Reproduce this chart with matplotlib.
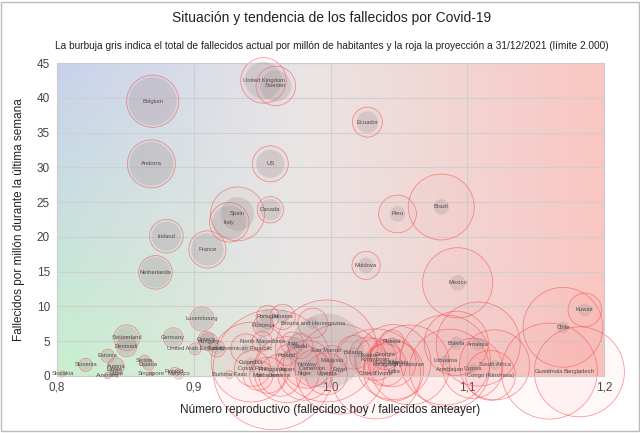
import matplotlib
matplotlib.use('Agg')
import matplotlib.pyplot as plt
import numpy as np

plt.rcParams['font.family'] = ['Liberation Sans', 'DejaVu Sans']

# datos
paises = ['United Kingdom', 'Sweden', 'Belgium', 'Andorra', 'US', 'Ecuador', 'Canada',
          'Spain', 'Italy', 'France', 'Ireland', 'Netherlands', 'Brazil', 'Peru',
          'Moldova', 'Mexico', 'Kuwait', 'Chile', 'Luxembourg', 'Switzerland',
          'Denmark', 'Germany', 'Estonia', 'Slovenia', 'Austria', 'Serbia', 'Croatia',
          'Slovakia', 'Australia', 'Cuba', 'Latvia', 'Singapore', 'Finland', 'Morocco',
          'Hungary', 'Greece', 'United Arab Emirates', 'Turkey', 'Burkina Faso',
          'Portugal', 'Panama', 'Romania', 'Bosnia and Herzegovina', 'North Macedonia',
          'Dominican Republic', 'World', 'Iran', 'Poland', 'Colombia', 'Costa Rica',
          'Philippines', 'Japan', 'Mali', 'Lebanon', 'Jamaica', 'Norway', 'Cameroon',
          'Niger', 'San Marino', 'Malaysia', 'Uganda', 'Egypt', 'Russia', 'Belarus',
          'Ukraine', 'Kyrgyzstan', 'Georgia', 'Paraguay', 'Saudi Arabia', 'Iraq',
          "Cote d'Ivoire", 'India', 'Afghanistan', 'Lithuania', 'Azerbaijan', 'Bolivia',
          'Armenia', 'Cyprus', 'South Africa', 'Congo (Kinshasa)', 'Guatemala',
          'Bangladesh']

# numero reproductivo (fallecidos hoy / fallecidos anteayer)
reproductivo = [0.951, 0.960, 0.870, 0.869, 0.956, 1.027, 0.956,
                0.932, 0.926, 0.910, 0.880, 0.872, 1.081, 1.049,
                1.026, 1.093, 1.186, 1.170, 0.906, 0.851,
                0.851, 0.885, 0.837, 0.821, 0.843, 0.864, 0.867,
                0.804, 0.837, 0.844, 0.842, 0.869, 0.886, 0.889,
                0.911, 0.909, 0.901, 0.917, 0.926,
                0.954, 0.965, 0.951, 0.987, 0.950,
                0.938, 0.978, 0.972, 0.968, 0.942, 0.943,
                0.958, 0.968, 0.947, 0.954, 0.963, 0.983, 0.987,
                0.981, 0.997, 1.001, 0.997, 1.007, 1.045, 1.017,
                1.027, 1.033, 1.040, 1.040, 1.045, 1.046,
                1.033, 1.046, 1.058, 1.084, 1.087, 1.092,
                1.108, 1.104, 1.120, 1.117, 1.160,
                1.182]

# fallecidos por millon durante la ultima semana
semana = [42.5, 41.7, 39.5, 30.5, 30.5, 36.5, 23.9,
          23.3, 22.1, 18.2, 20.1, 14.9, 24.3, 23.3,
          15.9, 13.4, 9.5, 7.0, 8.2, 5.5,
          4.2, 5.5, 2.9, 1.6, 1.4, 2.2, 1.6,
          0.3, 0.05, 0.4, 1.0, 0.3, 0.6, 0.3,
          4.9, 5.3, 3.9, 3.9, 0.2,
          8.5, 8.5, 7.2, 7.6, 5.0,
          3.9, 4.3, 4.7, 3.0, 2.0, 1.1,
          0.9, 0.9, 0.1, 0.1, 0.1, 1.7, 1.1,
          0.4, 3.6, 2.2, 0.3, 1.0, 4.9, 3.4,
          3.0, 2.4, 3.1, 1.6, 1.9, 2.0,
          0.3, 0.7, 1.6, 2.3, 1.0, 4.7,
          4.6, 1.1, 1.6, 0.1, 0.7,
          0.6]

# fallecidos totales por millon (burbuja gris)
total = [620, 520, 800, 730, 470, 360, 360,
         560, 560, 540, 490, 510, 260, 260,
         260, 260, 220, 200, 360, 380,
         300, 290, 190, 190, 260, 160, 150,
         90, 90, 90, 80, 60, 80, 120,
         260, 230, 160, 200, 60,
         260, 240, 280, 200, 180,
         150, 150, 200, 160, 160, 120,
         120, 90, 60, 70, 60, 140, 100,
         60, 1250, 100, 70, 110, 160, 180,
         130, 110, 100, 110, 110, 130,
         80, 90, 80, 160, 100, 220,
         220, 160, 170, 60, 100,
         70]

# proyeccion a 31/12/2021 por millon (burbuja roja, limite 2.000)
proyeccion = [760, 660, 870, 800, 600, 500, 440,
              900, 660, 620, 560, 560, 1100, 630,
              470, 1170, 560, 1330, 400, 430,
              330, 330, 220, 220, 280, 180, 180,
              100, 110, 130, 110, 70, 150, 170,
              300, 260, 200, 270, 130,
              380, 420, 340, 500, 330,
              500, 420, 380, 340, 1330, 600,
              2000, 1100, 500, 600, 700, 800, 600,
              900, 1700, 500, 700, 1500, 400, 560,
              600, 700, 500, 700, 800, 1250,
              1500, 1000, 1330, 1500, 1330, 1070,
              1400, 1000, 1170, 830, 1600,
              1500]

RADIO_MAX = 60.0   # radio en pixeles para 2.000 fallecidos/millon
LIMITE = 2000.0


def area(valores):
    r = RADIO_MAX * np.minimum(np.asarray(valores, float), LIMITE) / LIMITE
    return (2 * r * 72.0 / 100) ** 2


fig = plt.figure(figsize=(6.4, 4.33), dpi=100)
fig.patch.set_facecolor('white')

ax = fig.add_axes([57 / 640, (433 - 376) / 433, (604 - 57) / 640, (376 - 63) / 433])
ax.set_xlim(0.8, 1.2)
ax.set_ylim(0, 45)

# fondo en degradado: azul arriba izq, verde abajo izq, rojo a la derecha
ny, nx = 100, 200
ty = np.linspace(0, 1, ny)[:, None, None]
tx = np.linspace(0, 1, nx)[None, :, None]
azul = np.array([200, 210, 236]) / 255
verde = np.array([200, 240, 206]) / 255
izq = azul * (1 - ty) + verde * ty
centro = np.array([234, 229, 229]) / 255
rojo = np.array([250, 198, 193]) / 255
t1 = np.clip(tx / 0.45, 0, 1)
t2 = np.clip((tx - 0.45) / 0.55, 0, 1)
fondo = np.where(tx < 0.45, izq * (1 - t1) + centro * t1, centro * (1 - t2) + rojo * t2)
ax.imshow(fondo, extent=[0.8, 1.2, 0, 45], aspect='auto', zorder=0, origin='upper')

ax.set_xticks([0.8, 0.9, 1.0, 1.1, 1.2])
ax.set_xticklabels(['0,8', '0,9', '1,0', '1,1', '1,2'])
ax.set_yticks(range(0, 46, 5))
ax.tick_params(length=0, labelsize=8.5, colors='#444444')
ax.tick_params(axis='x', pad=4)
ax.tick_params(axis='y', pad=5)
ax.grid(True, color='#cfcfcf', linewidth=0.8, zorder=1)
for s in ax.spines.values():
    s.set_color('#cccccc')
    s.set_linewidth(0.8)

# burbujas rojas (proyeccion) y grises (actual)
ax.scatter(reproductivo, semana, s=area(proyeccion), facecolor=(1, 0.4, 0.4, 0.045),
           edgecolor=(0.95, 0.3, 0.3, 0.6), linewidth=0.55, zorder=2, clip_on=False)
ax.scatter(reproductivo, semana, s=area(total), facecolor=(0.6, 0.56, 0.58, 0.26),
           edgecolor='none', zorder=3, clip_on=False)

for nombre, x, y in zip(paises, reproductivo, semana):
    ax.text(x, y, nombre, fontsize=4.2, color='#505050', ha='center', va='center',
            zorder=4, clip_on=False)

fig.text(332 / 640, 1 - 18 / 433, 'Situación y tendencia de los fallecidos por Covid-19',
         ha='center', va='center', fontsize=10, color='#222222')
fig.text(332 / 640, 1 - 46 / 433,
         'La burbuja gris indica el total de fallecidos actual por millón de habitantes '
         'y la roja la proyección a 31/12/2021 (límite 2.000)',
         ha='center', va='center', fontsize=7.3, color='#222222')
fig.text(330 / 640, 1 - 410 / 433, 'Número reproductivo (fallecidos hoy / fallecidos anteayer)',
         ha='center', va='center', fontsize=8.5, color='#222222')
fig.text(19 / 640, 1 - 220 / 433, 'Fallecidos por millón durante la última semana',
         ha='center', va='center', rotation=90, fontsize=8.5, color='#222222')

# marco exterior
fig.patches.append(plt.Rectangle((0.002, 0.004), 0.996, 0.992, transform=fig.transFigure,
                                 fill=False, edgecolor='#bbbbbb', linewidth=1))

fig.savefig('out.png', dpi=100)
